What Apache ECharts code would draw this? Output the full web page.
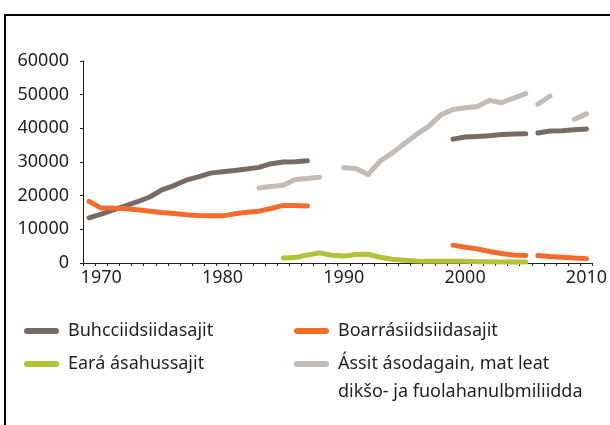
<!DOCTYPE html>
<html>
<head>
<meta charset="utf-8">
<title>Sámi households</title>
<script src="https://cdn.jsdelivr.net/npm/echarts@6/dist/echarts.min.js"></script>
<style>
html, body {
  margin: 0;
  padding: 0;
  background: #fff;
}
#wrap {
  position: relative;
  width: 610px;
  height: 425px;
}
#myChart {
  position: absolute;
  left: 0;
  top: 0;
  width: 610px;
  height: 425px;
}
#frame {
  position: absolute;
  left: 4px;
  top: 14px;
  right: 0;
  bottom: 0;
  border-left: 2px solid #000;
  border-top: 2px solid #000;
  pointer-events: none;
}
</style>
</head>
<body>
<div id="wrap">
  <div id="myChart"></div>
  <div id="frame"></div>
</div>
<script>
// years on the x axis
let years = [
  "1969", "1970", "1971", "1972", "1973", "1974", "1975", "1976", "1977", "1978",
  "1979", "1980", "1981", "1982", "1983", "1984", "1985", "1986", "1987", "1988",
  "1989", "1990", "1991", "1992", "1993", "1994", "1995", "1996", "1997", "1998",
  "1999", "2000", "2001", "2002", "2003", "2004", "2005", "2006", "2007", "2008",
  "2009", "2010"
];
// lines are broken between these two years (new statistics)
let breakYear = "2006";

let buhcci = [
  13400, 14500, 15800, 17000, 18200, 19600, 21700, 23000, 24600, 25600,
  26700, 27100, 27500, 27900, 28400, 29500, 30000, 30100, 30400, null,
  null, null, null, null, null, null, null, null, null, null,
  36800, 37400, 37600, 37800, 38200, 38300, 38400, 38600, 39200, 39300,
  39600, 39800
];
let boarra = [
  18300, 16300, 16300, 16100, 15800, 15400, 15000, 14700, 14300, 14100,
  14000, 14000, 14600, 15100, 15400, 16200, 17100, 17100, 16900, null,
  null, null, null, null, null, null, null, null, null, null,
  5300, 4700, 4200, 3400, 2800, 2400, 2200, 2200, 1900, 1700,
  1500, 1300
];
let eara = [
  null, null, null, null, null, null, null, null, null, null,
  null, null, null, null, null, null, 1500, 1600, 2400, 3000,
  2300, 2100, 2500, 2600, 1700, 1100, 800, 600, 500, 500,
  500, 500, 400, 400, 300, 300, 300, null, null, null,
  null, null
];
let assit = [
  null, null, null, null, null, null, null, null, null, null,
  null, null, null, null, 22300, 22700, 23100, 24800, 25100, 25500,
  null, 28300, 28100, 26300, 30300, 32700, 35500, 38200, 40600, 44000,
  45600, 46100, 46500, 48300, 47600, 49000, 50300, 47200, 49600, null,
  42700, 44300
];

let names = [
  "Buhcciidsiidasajit",
  "Boarrásiidsiidasajit",
  "Eará ásahussajit",
  "Ássit ásodagain, mat leat dikšo- ja fuolahanulbmiliidda"
];
let colors = ["#776b64", "#f36c2b", "#b4c236", "#c2bbb6"];

let textColor = "#231f20";
let font = "Noto Sans";
let pill = "path://M3,0 L32,0 A3,3 0 0 1 32,6 L3,6 A3,3 0 0 1 3,0 Z";

let chart = echarts.init(document.getElementById("myChart"));
let breakIdx = years.indexOf(breakYear);

function makeSeries(name, color, values) {
  let before = values.map(function (v, i) { return i < breakIdx ? v : null; });
  let after = values.map(function (v, i) { return i >= breakIdx ? v : null; });
  let base = {
    name: name,
    type: "line",
    showSymbol: false,
    symbol: "none",
    color: color,
    lineStyle: { width: 5, color: color, cap: "round", join: "round" },
    emphasis: { disabled: true },
    silent: true
  };
  return [
    Object.assign({}, base, { data: before }),
    Object.assign({}, base, { data: after })
  ];
}

function makeLegend(name, left, top, fmt) {
  return {
    data: [name],
    left: left,
    top: top,
    padding: 0,
    icon: pill,
    itemWidth: 35,
    itemHeight: 6,
    selectedMode: false,
    formatter: fmt || "{name}",
    textStyle: {
      fontFamily: font,
      fontSize: 18,
      color: textColor,
      lineHeight: 28,
      padding: [0, 0, 0, 4]
    }
  };
}

let series = []
  .concat(makeSeries(names[0], colors[0], buhcci))
  .concat(makeSeries(names[3], colors[3], assit))
  .concat(makeSeries(names[2], colors[2], eara))
  .concat(makeSeries(names[1], colors[1], boarra));

let option = {
  animation: false,
  grid: { left: 83, right: 16, top: 61, bottom: 162, containLabel: false },
  legend: [
    makeLegend(names[0], 24, 317),
    makeLegend(names[1], 294, 317),
    makeLegend(names[2], 24, 350),
    makeLegend(names[3], 294, 322,
      "\nÁssit ásodagain, mat leat\ndikšo- ja fuolahanulbmiliidda")
  ],
  xAxis: {
    type: "category",
    data: years,
    boundaryGap: true,
    axisLine: { lineStyle: { color: textColor, width: 1 } },
    axisTick: { show: true, interval: 0, length: 3, lineStyle: { color: textColor } },
    axisLabel: {
      interval: function (i, v) { return Number(v) % 10 === 0; },
      margin: 6,
      fontFamily: font,
      fontSize: 18,
      color: textColor
    },
    splitLine: { show: false }
  },
  yAxis: {
    type: "value",
    min: 0,
    max: 60000,
    interval: 10000,
    axisLine: { show: true, lineStyle: { color: textColor, width: 1 } },
    axisTick: { show: true, length: 3, lineStyle: { color: textColor } },
    axisLabel: {
      margin: 14,
      fontFamily: font,
      fontSize: 18,
      color: textColor,
      formatter: function (v) { return String(v); }
    },
    splitLine: { show: false }
  },
  series: series
};

chart.setOption(option);
</script>
</body>
</html>
